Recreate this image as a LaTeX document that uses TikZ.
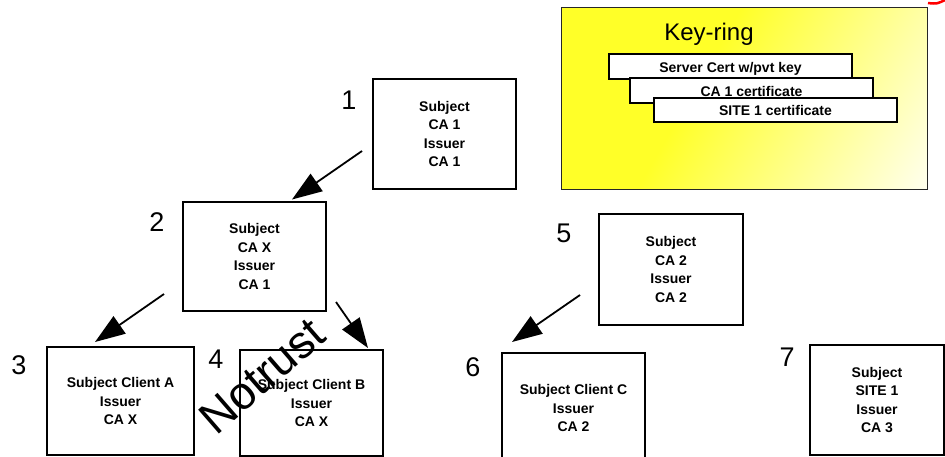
\documentclass[tikz,border=0pt]{standalone}
\usepackage{fontspec}
\setmainfont{Liberation Sans}
\usetikzlibrary{arrows.meta}
\definecolor{kyellow}{RGB}{255,255,40}
\pgfdeclarehorizontalshading{keyfade}{100bp}{color(0bp)=(kyellow); color(42bp)=(kyellow); color(88bp)=(white); color(100bp)=(white)}
\begin{document}
\begin{tikzpicture}[x=1pt,y=-1pt,
  cert/.style={draw, line width=2pt, minimum width=143pt, minimum height=110pt,
    inner sep=0pt, align=center, font=\fontsize{14}{18.5}\selectfont\bfseries},
  num/.style={font=\fontsize{27}{30}\selectfont, inner sep=0pt},
  link/.style={line width=1.8pt, -{Triangle[length=30pt,width=21pt]}},
  strip/.style={draw, fill=white, line width=2.2pt, minimum width=243pt,
    minimum height=24.5pt, inner sep=0pt, text height=11pt, text depth=0pt,
    font=\fontsize{14}{16}\selectfont\bfseries}
]
\useasboundingbox (0,0) rectangle (945,456);

% key-ring panel with its certificates
\node[draw=black!85, line width=1pt, shade, shading=keyfade, shading angle=-30,
  minimum width=366pt, minimum height=182pt, inner sep=0pt] (ring) at (744,98) {};
\node[anchor=base, font=\fontsize{24}{26}\selectfont, inner sep=0pt] (ringtitle) at (709,40) {Key-ring};
\node[strip] (k1) at (730.5,66.5) {Server Cert w/pvt key};
\node[strip] (k2) at (751.5,90.5) {CA 1 certificate};
\node[strip] (k3) at (775.5,110) {SITE 1 certificate};

% red mark at the corner
\draw[red, line width=2.5pt] (928,3) .. controls (937,4) .. (947,-1);

% certificates
\node[cert] (b1) at (444.5,134) {Subject\\CA 1\\Issuer\\CA 1};
\node[cert, minimum height=109pt] (b2) at (254.5,256.5) {Subject\\CA X\\Issuer\\CA 1};
\node[cert, minimum width=147pt, minimum height=108pt] (b3) at (120.5,401) {Subject Client A\\Issuer\\CA X};
\node[cert, minimum height=106pt] (b4) at (311.5,403) {Subject Client B\\Issuer\\CA X};
\node[cert, minimum width=144pt, minimum height=111pt] (b5) at (671,269.5) {Subject\\CA 2\\Issuer\\CA 2};
\node[cert] (b6) at (573.5,408) {Subject Client C\\Issuer\\CA 2};
\node[cert, minimum width=134pt] (b7) at (877,400) {Subject\\SITE 1\\Issuer\\CA 3};

% numbers
\node[num] (n1) at (349,100) {1};
\node[num] (n2) at (157,222) {2};
\node[num] (n3) at (19,365) {3};
\node[num] (n4) at (216,359) {4};
\node[num] (n5) at (564,233) {5};
\node[num] (n6) at (473,367) {6};
\node[num] (n7) at (787,357) {7};

% issuing links
\coordinate (s12) at (362,151);
\coordinate (s23) at (164,294);
\coordinate (s24) at (336,302);
\coordinate (s56) at (580,295);
\draw[link] (s12) -- ([xshift=37.5pt,yshift=1.5pt]b2.north);
\draw[link] (s23) -- ([xshift=-25.5pt,yshift=4pt]b3.north);
\draw[link] (s24) -- ([xshift=56.5pt,yshift=1pt]b4.north);
\draw[link] (s56) -- ([xshift=-61.5pt,yshift=10pt]b6.north);

% rotated remark
\node[rotate=41, font=\fontsize{46}{50}\selectfont, inner sep=0pt] (notrust) at (262,376) {Notrust};
\end{tikzpicture}
\end{document}
